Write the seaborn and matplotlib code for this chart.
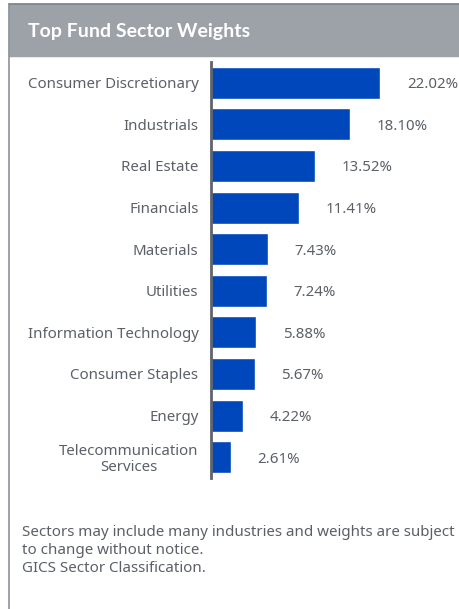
import pandas as pd
import seaborn as sns
import matplotlib
matplotlib.use('Agg')
import matplotlib.pyplot as plt
from matplotlib.patches import Rectangle
from matplotlib.lines import Line2D

# sector weights
sectors = ["Consumer Discretionary", "Industrials", "Real Estate", "Financials",
           "Materials", "Utilities", "Information Technology", "Consumer Staples",
           "Energy", "Telecommunication\nServices"]
weights = [22.02, 18.10, 13.52, 11.41, 7.43, 7.24, 5.88, 5.67, 4.22, 2.61]
value_labels = ["22.02%", "18.10%", "13.52%", "11.41%", "7.43%", "7.24%",
                "5.88%", "5.67%", "4.22%", "2.61%"]

df = pd.DataFrame({"sector": sectors, "weight": weights})

sns.set_theme(style="white")
plt.rcParams['font.family'] = ['Noto Sans', 'DejaVu Sans']

W, H = 459, 609
fig = plt.figure(figsize=(W / 100, H / 100), dpi=100)

# frame: header band and borders
fig.patches.append(Rectangle((9 / W, 1 - 56 / H), 1 - 9 / W, 52 / H,
                             transform=fig.transFigure, color="#9da2a8", zorder=0))
fig.lines.append(Line2D([9 / W, 9 / W], [0, 1 - 4 / H], transform=fig.transFigure,
                        color="#8d9299", lw=1.2))
fig.lines.append(Line2D([9 / W, 1], [1 - 4 / H, 1 - 4 / H], transform=fig.transFigure,
                        color="#7d8289", lw=1.2))
fig.text(28 / W, 1 - 31 / H, "Top Fund Sector Weights", color="white",
         fontsize=14, fontweight="bold", va="center", ha="left", family="Lato")

# axes area
ax = fig.add_axes([211 / W, 1 - 478 / H, (457 - 211) / W, (478 - 62) / H])
sns.barplot(data=df, x="weight", y="sector", orient="h", color="#0047bb",
            width=0.77, saturation=1, ax=ax)
ax.set_xlim(0, 32)
ax.set_ylim(9.5, -0.5)
ax.set_xlabel("")
ax.set_ylabel("")
ax.set_xticks([])
ax.tick_params(axis="y", length=0, pad=9, labelsize=10.8, labelcolor="#5b6068")
for lbl in ax.get_yticklabels():
    lbl.set_multialignment("center")
    lbl.set_linespacing(1.05)
for s in ["top", "right", "bottom"]:
    ax.spines[s].set_visible(False)
ax.spines["left"].set_color("#5f646b")
ax.spines["left"].set_linewidth(2)
ax.patch.set_alpha(0)

for i, (w, t) in enumerate(zip(weights, value_labels)):
    ax.text(w + 3.45, i, t, va="center_baseline", ha="left", fontsize=10.8,
            color="#5b6068")

# footnote
notes = ["Sectors may include many industries and weights are subject",
         "to change without notice.",
         "GICS Sector Classification."]
for k, line in enumerate(notes):
    fig.text(22 / W, 1 - (532 + k * 18.5) / H, line, fontsize=10.9,
             color="#5b6068", va="center", ha="left")

fig.savefig("out.png", dpi=100)
